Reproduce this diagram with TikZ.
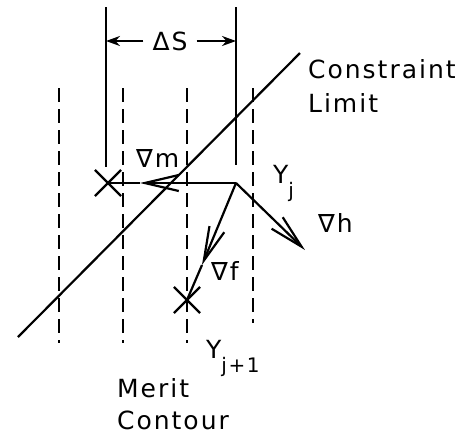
\documentclass[tikz,border=0pt]{standalone}
\usepackage{fontspec}
\setmainfont{DejaVu Sans}[LetterSpace=8]
\usetikzlibrary{arrows.meta, positioning, shapes.misc}
\newcommand\lowsub[1]{\raisebox{-7pt}{\fontsize{10}{12}\selectfont #1}}

\begin{document}
\begin{tikzpicture}[x=0.5pt, y=-0.5pt, line width=1.1pt,
  every node/.style={font=\fontsize{12.5}{17}\selectfont, inner sep=0pt},
  txt/.style={anchor=base west},
  meritline/.style={line width=0.9pt, dash pattern=on 7pt off 3.5pt},
  gradarrow/.style={-{Straight Barb[length=17pt,width=8pt]}},
  dimarrow/.style={-{Stealth[length=7pt,width=5pt]}},
  xmark/.style={cross out, draw, minimum size=12pt}]
\useasboundingbox (0,0) rectangle (462,435);

% step width
\draw (106,7) -- (106,167);
\draw (236,7) -- (236,165);
\coordinate (sl) at (106,41);
\coordinate (sr) at (236,41);
\node (ds) at (170,41) [inner sep=4pt] {ΔS};
\draw[dimarrow] (ds) -- (sl);
\draw[dimarrow] (ds) -- (sr);

% merit contours
\foreach \x in {59,123,187}
  \draw[meritline] (\x,88) -- (\x,343);
\draw[meritline] (253,88) -- (253,323);

% constraint limit
\draw (18,337) -- (300,53);

% search step
\coordinate (yj) at (236,183);
\node[xmark] (ym) at (108,183) {};
\node[xmark] (yjnext) at (187,300) {};
\coordinate (tipm) at (140,183);
\coordinate (tipf) at (202,265);
\coordinate (tiph) at (305,250);
\draw[gradarrow] (yj) -- (tipm);
\draw (tipm) -- (ym.center);
\draw[gradarrow] (yj) -- (tipf);
\draw (tipf) -- (yjnext.center);
\draw[gradarrow] (yj) -- (tiph);

% labels
\node[txt] (gm) at (135,167) {∇m};
\node[txt] (gf) at (210,280) {∇f};
\node[txt] (gh) at (317,232) {∇h};
\node[txt] (yjlab) at (272,183) {Y\lowsub{j}};
\node[txt] (yjnextlab) at (205,358) {Y\lowsub{j+1}};
\node[txt] (constraint) at (307,78) {Constraint};
\node[txt, below=17pt of constraint.base west, anchor=base west] (limit) {Limit};
\node[txt] (merit) at (116,397) {Merit};
\node[txt, below=16pt of merit.base west, anchor=base west] (contour) {Contour};
\end{tikzpicture}
\end{document}
